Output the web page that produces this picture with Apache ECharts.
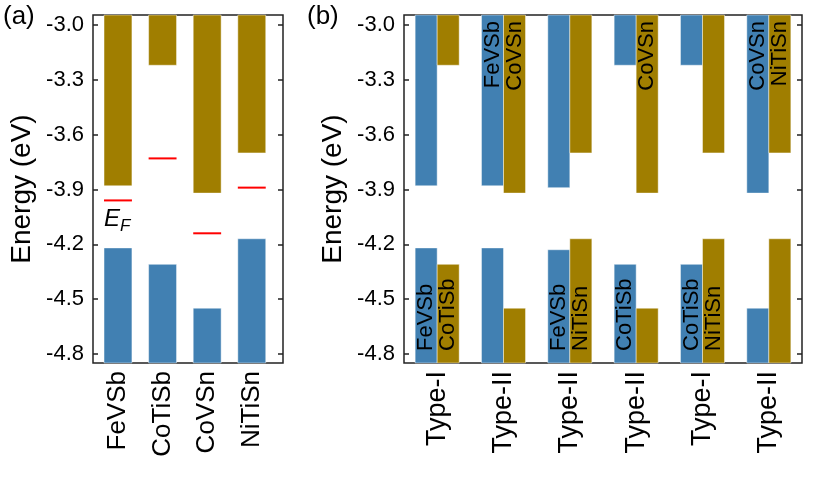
<!DOCTYPE html>
<html>
<head>
<meta charset="utf-8">
<script src="https://cdn.jsdelivr.net/npm/echarts@6/dist/echarts.min.js"></script>
<style>
  html, body { margin: 0; padding: 0; background: #fff; }
  #main { width: 830px; height: 485px; }
</style>
</head>
<body>
<div id="main"></div>
<script>
// energy axis
var yMin = -4.85, yMax = -2.945;
var yTicks = [-4.8, -4.5, -4.2, -3.9, -3.6, -3.3, -3.0];

// (a) band edges of each compound
var matA = ['FeVSb', 'CoTiSb', 'CoVSn', 'NiTiSn'];
var cbmA = [-3.88, -3.22, -3.92, -3.70];
var vbmA = [-4.22, -4.31, -4.55, -4.17];
var efA = [-3.96, -3.73, -4.14, -3.89];

// (b) heterojunction pairs
var typeB = ['Type-I', 'Type-II', 'Type-II', 'Type-II', 'Type-I', 'Type-II'];
var leftMatB = ['FeVSb', 'FeVSb', 'FeVSb', 'CoTiSb', 'CoTiSb', 'CoVSn'];
var rightMatB = ['CoTiSb', 'CoVSn', 'NiTiSn', 'CoVSn', 'NiTiSn', 'NiTiSn'];
var leftCbmB = [-3.88, -3.88, -3.89, -3.22, -3.22, -3.92];
var leftVbmB = [-4.22, -4.22, -4.23, -4.31, -4.31, -4.55];
var rightCbmB = [-3.22, -3.92, -3.70, -3.92, -3.70, -3.70];
var rightVbmB = [-4.31, -4.55, -4.17, -4.55, -4.17, -4.17];
// where the name sits: 'vb' = lower bar, 'cb' = upper bar
var leftNameAt = ['vb', 'cb', 'vb', 'vb', 'vb', 'cb'];
var rightNameAt = ['vb', 'cb', 'vb', 'cb', 'vb', 'cb'];

var blue = '#4180b2', gold = '#a07e00';
var font = 'Liberation Sans, Arial, sans-serif';
var frame = '#222';

var chart = echarts.init(document.getElementById('main'));

// bar from value(1) up to value(2); width in data units (value axis) or band fraction (category)
function barItem(width, shift, color, band) {
    return function (params, api) {
        var x = api.value(0);
        var top = api.coord([x, api.value(2)]);
        var bot = api.coord([x, api.value(1)]);
        var w = band ? api.size([1, 0])[0] * width : api.size([width, 0])[0];
        var dx = band ? api.size([1, 0])[0] * shift : 0;
        var children = [{
            type: 'rect',
            shape: { x: top[0] + dx - w / 2, y: top[1], width: w, height: bot[1] - top[1] },
            style: { fill: color, stroke: 'rgba(255,255,255,0.45)', lineWidth: 1 }
        }];
        var name = api.value(3);
        if (name) {
            var isTop = api.value(4) === 1;
            var yy = isTop ? api.coord([x, yMax])[1] + 6 : api.coord([x, yMin])[1] - 12;
            children.push({
                type: 'text',
                x: top[0] + dx,
                y: yy,
                rotation: Math.PI / 2,
                style: {
                    text: name, fill: '#000', fontSize: 22, fontFamily: font,
                    align: isTop ? 'right' : 'left', verticalAlign: 'middle'
                }
            });
        }
        return { type: 'group', children: children };
    };
}

function fermiItem(params, api) {
    var x = api.value(0);
    var p = api.coord([x, api.value(1)]);
    var w = api.size([0.626, 0])[0];
    return {
        type: 'line',
        shape: { x1: p[0] - w / 2, y1: p[1], x2: p[0] + w / 2, y2: p[1] },
        style: { stroke: '#ff0000', lineWidth: 2 }
    };
}

var cbDataA = [], vbDataA = [], efDataA = [];
for (var i = 0; i < matA.length; i++) {
    cbDataA.push([i + 1, cbmA[i], yMax]);
    vbDataA.push([i + 1, yMin, vbmA[i]]);
    efDataA.push([i + 1, efA[i]]);
}

var leftB = [], rightB = [];
for (var j = 0; j < typeB.length; j++) {
    leftB.push([j, leftCbmB[j], yMax, leftNameAt[j] === 'cb' ? leftMatB[j] : '', 1]);
    leftB.push([j, yMin, leftVbmB[j], leftNameAt[j] === 'vb' ? leftMatB[j] : '', 0]);
    rightB.push([j, rightCbmB[j], yMax, rightNameAt[j] === 'cb' ? rightMatB[j] : '', 1]);
    rightB.push([j, yMin, rightVbmB[j], rightNameAt[j] === 'vb' ? rightMatB[j] : '', 0]);
}

function energyAxis(grid, side) {
    var ax = {
        type: 'value', gridIndex: grid, position: side, min: yMin, max: yMax,
        axisLine: { show: false },
        splitLine: { show: false },
        axisTick: { show: true, inside: true, length: 5, customValues: yTicks,
            lineStyle: { color: frame, width: 1.5 } },
        axisLabel: { show: false }
    };
    if (side === 'left') {
        ax.name = 'Energy (eV)';
        ax.nameLocation = 'middle';
        ax.nameGap = 57;
        ax.nameTextStyle = { fontSize: 28, fontFamily: font, color: '#000' };
        ax.axisLabel = {
            show: true, customValues: yTicks, margin: 9,
            fontSize: 22, fontFamily: font, color: '#000',
            formatter: function (v) { return v.toFixed(1); }
        };
    }
    return ax;
}

var option = {
    animation: false,
    backgroundColor: '#fff',
    grid: [
        { left: 93, top: 15, width: 190, height: 348, show: true, borderColor: frame, borderWidth: 1.5 },
        { left: 404, top: 15, width: 398, height: 348, show: true, borderColor: frame, borderWidth: 1.5 }
    ],
    xAxis: [{
        type: 'value', gridIndex: 0, min: 0.44, max: 4.70,
        axisLine: { show: false }, axisTick: { show: false }, splitLine: { show: false },
        axisLabel: {
            customValues: [1, 2, 3, 4], rotate: 90, margin: 8,
            fontSize: 26, fontFamily: font, color: '#000',
            formatter: function (v) { return matA[Math.round(v) - 1]; }
        }
    }, {
        type: 'category', gridIndex: 1, data: typeB,
        axisLine: { show: false }, axisTick: { show: false },
        axisLabel: { interval: 0, rotate: 90, margin: 8, fontSize: 27, fontFamily: font, color: '#000' }
    }],
    yAxis: [energyAxis(0, 'left'), energyAxis(0, 'right'), energyAxis(1, 'left'), energyAxis(1, 'right')],
    graphic: [
        { type: 'text', left: 3, top: 4, style: { text: '(a)', fontSize: 26, fontFamily: font, fill: '#000' } },
        { type: 'text', left: 307, top: 4, style: { text: '(b)', fontSize: 26, fontFamily: font, fill: '#000' } },
        {
            type: 'text', left: 104, top: 207,
            style: {
                text: '{e|E}{f|F}',
                rich: {
                    e: { fontSize: 24, fontStyle: 'italic', fontFamily: font, fill: '#000' },
                    f: { fontSize: 17, fontStyle: 'italic', fontFamily: font, fill: '#000', padding: [15, 0, 0, 0] }
                }
            }
        }
    ],
    series: [
        { type: 'custom', xAxisIndex: 0, yAxisIndex: 0, renderItem: barItem(0.626, 0, gold, false), data: cbDataA },
        { type: 'custom', xAxisIndex: 0, yAxisIndex: 0, renderItem: barItem(0.626, 0, blue, false), data: vbDataA },
        { type: 'custom', xAxisIndex: 0, yAxisIndex: 0, renderItem: fermiItem, data: efDataA },
        { type: 'custom', xAxisIndex: 1, yAxisIndex: 2, renderItem: barItem(0.332, -0.166, blue, true), data: leftB },
        { type: 'custom', xAxisIndex: 1, yAxisIndex: 2, renderItem: barItem(0.332, 0.166, gold, true), data: rightB }
    ]
};
chart.setOption(option);
</script>
</body>
</html>
